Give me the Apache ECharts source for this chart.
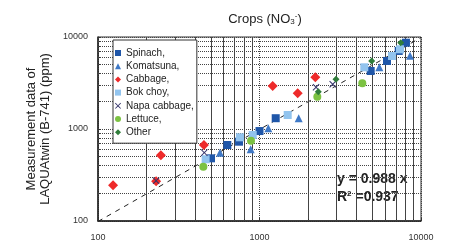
<!DOCTYPE html>
<html>
<head>
<meta charset="utf-8">
<script src="https://cdn.jsdelivr.net/npm/echarts@6/dist/echarts.min.js"></script>
<style>
  html, body { margin: 0; padding: 0; background: #fff; }
  #chart { width: 455px; height: 244px; }
</style>
</head>
<body>
<div id="chart"></div>
<script>
// values (x = reference method, y = LAQUAtwin)
const spinachX = [501, 632, 747, 1000, 1260, 4880, 6160, 7280, 8070];
const spinachY = [480, 670, 728, 950, 1310, 4270, 5490, 7050, 8670];
const komatsunaX = [569, 882, 1134, 1748, 5520, 8550];
const komatsunaY = [553, 602, 1018, 1307, 4685, 6260];
const cabbageX = [124, 229, 245, 453, 1207, 1724, 2216];
const cabbageY = [245, 270, 518, 670, 2934, 2444, 3648];
const bokChoyX = [464, 757, 908, 1495, 4456, 6610, 7413];
const bokChoyY = [469, 812, 861, 1420, 4685, 6215, 7350];
const napaX = [229, 455, 2239, 2840];
const napaY = [274, 553, 2840, 3062];
const lettuceX = [449, 886, 2280, 4330];
const lettuceY = [389, 746, 2245, 3140];
const otherX = [2312, 2977, 4951, 7490];
const otherY = [2544, 3470, 5485, 8670];

const fitSlope = 0.988;
const fitX = [100, 10000];
const minorVals = [200, 300, 400, 500, 600, 700, 800, 900, 2000, 3000, 4000, 5000, 6000, 7000, 8000, 9000];

const pairs = (xs, ys) => xs.map((x, i) => [x, ys[i]]);
const FONT = 'Arial, "Liberation Sans", sans-serif';
const crossPath = 'path://M0,1 L1,0 L5,4 L9,0 L10,1 L6,5 L10,9 L9,10 L5,6 L1,10 L0,9 L4,5 Z';

const chart = echarts.init(document.getElementById('chart'));

const gridLines = [];
for (const v of minorVals) {
  gridLines.push({ xAxis: v });
  gridLines.push({ yAxis: v });
}

const axisCommon = {
  type: 'log',
  logBase: 10,
  min: 100,
  max: 10000,
  axisLine: { show: true, lineStyle: { color: '#222', width: 1.5 } },
  axisTick: { show: true, inside: true, length: 3, lineStyle: { color: '#333' }, customValues: [100, 200, 300, 400, 500, 600, 700, 800, 900, 1000, 2000, 3000, 4000, 5000, 6000, 7000, 8000, 9000, 10000] },
  splitLine: { show: true, lineStyle: { color: '#444', type: [1, 1], width: 1 } },
  axisLabel: { color: '#333', fontSize: 9, fontFamily: FONT, formatter: v => String(Math.round(v)) }
};

const scatter = (name, xs, ys, symbol, size, color) => ({
  name: name,
  type: 'scatter',
  symbol: symbol,
  symbolSize: size,
  itemStyle: { color: color, opacity: 1 },
  data: pairs(xs, ys),
  z: 5
});

chart.setOption({
  animation: false,
  title: {
    text: 'Crops (NO{sub|3}{sup|-})',
    left: 260,
    textAlign: 'center',
    top: 7,
    textStyle: {
      fontSize: 13, fontWeight: 'normal', color: '#222', fontFamily: FONT,
      rich: {
        sub: { fontSize: 8, verticalAlign: 'bottom', color: '#222', fontFamily: FONT, padding: [6, 0, 0, 0] },
        sup: { fontSize: 8, verticalAlign: 'top', color: '#222', fontFamily: FONT, padding: [0, 0, 6, 0] }
      }
    }
  },
  grid: { left: 98, right: 34, top: 37, bottom: 23, show: true, borderColor: '#333', borderWidth: 1 },
  legend: {
    orient: 'vertical',
    left: 113,
    top: 40,
    z: 10,
    padding: [8, 3, 6, 2],
    itemGap: 3.2,
    itemWidth: 6,
    itemHeight: 6,
    borderColor: '#333',
    borderWidth: 1,
    backgroundColor: '#fff',
    textStyle: { fontSize: 10, lineHeight: 10, color: '#222', fontFamily: FONT },
    data: ['Spinach,', 'Komatsuna,', 'Cabbage,', 'Bok choy,', 'Napa cabbage,', 'Lettuce,', 'Other']
  },
  xAxis: Object.assign({}, axisCommon, {
    axisLabel: Object.assign({}, axisCommon.axisLabel, { margin: 12 })
  }),
  yAxis: Object.assign({}, axisCommon, {
    name: 'Measurement data of\nLAQUAtwin (B-741) (ppm)',
    nameLocation: 'middle',
    nameRotate: 90,
    nameGap: 38,
    nameTextStyle: { fontSize: 13, lineHeight: 14, color: '#222', fontFamily: FONT },
    axisLabel: Object.assign({}, axisCommon.axisLabel, { margin: 10 })
  }),
  graphic: [{
    type: 'group',
    left: 330,
    top: 168,
    z: 20,
    children: [
      { type: 'rect', shape: { x: 0, y: 0, width: 82, height: 40 }, style: { fill: '#fff' } },
      { type: 'text', x: 7, y: 4, style: { text: 'y = 0.988 x', font: 'bold 14px ' + FONT, fill: '#222' } },
      { type: 'text', x: 7, y: 22, style: {
        text: 'R{s|2} =0.937', font: 'bold 14px ' + FONT, fill: '#222',
        rich: { s: { fontSize: 8, fontWeight: 'bold', verticalAlign: 'top', padding: [0, 0, 6, 0], fill: '#222' } }
      } }
    ]
  }],
  series: [
    {
      name: 'grid',
      type: 'line',
      data: [],
      silent: true,
      z: 1,
      markLine: {
        silent: true,
        symbol: 'none',
        label: { show: false },
        lineStyle: { color: '#444', type: [1, 1], width: 1 },
        data: gridLines
      }
    },
    {
      name: 'fit',
      type: 'line',
      data: fitX.map(x => [x, x * fitSlope]),
      symbol: 'none',
      lineStyle: { color: '#222', width: 1, type: [5, 5] },
      z: 3
    },
    scatter('Spinach,', spinachX, spinachY, 'rect', 8, '#1f56a8'),
    scatter('Komatsuna,', komatsunaX, komatsunaY, 'triangle', 8, '#3e78c6'),
    scatter('Cabbage,', cabbageX, cabbageY, 'diamond', 10, '#ee2a2a'),
    scatter('Bok choy,', bokChoyX, bokChoyY, 'rect', 8, '#92c4ee'),
    scatter('Napa cabbage,', napaX, napaY, crossPath, 7, '#34346a'),
    scatter('Lettuce,', lettuceX, lettuceY, 'circle', 8, '#7cc242'),
    scatter('Other', otherX, otherY, 'diamond', 7, '#2f7d3a')
  ]
});
</script>
</body>
</html>
